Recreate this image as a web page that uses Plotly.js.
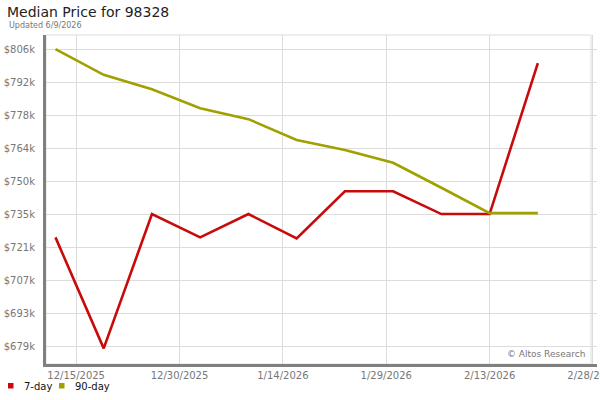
<!DOCTYPE html>
<html>
<head>
<meta charset="utf-8">
<script src="https://cdn.plot.ly/plotly-3.0.1.min.js"></script>
<style>
  html, body { margin: 0; padding: 0; background: #fff; }
  #chart { width: 600px; height: 400px; }
</style>
</head>
<body>
<div id="chart"></div>
<script>
// weekly sample dates
const dates = [
    "2025-12-12", "2025-12-19", "2025-12-26", "2026-01-02", "2026-01-09", "2026-01-16",
    "2026-01-23", "2026-01-30", "2026-02-06", "2026-02-13", "2026-02-20",
];

// median price, 7-day and 90-day rolling
const price7 = [725600, 678000, 735600, 725600, 735600, 725200, 745400, 745400, 735600, 735600, 800300];
const price90 = [806300, 795300, 789100, 781000, 776300, 767400, 763100, 757600, 746900, 736000, 736000];

const xTickVals = ["2025-12-15", "2025-12-30", "2026-01-14", "2026-01-29", "2026-02-13", "2026-02-28"];
const xTickText = ["12/15/2025", "12/30/2025", "1/14/2026", "1/29/2026", "2/13/2026", "2/28/2026"];

const yTickVals = [679000, 693111, 707222, 721333, 735444, 749556, 763667, 777778, 791889, 806000];
const yTickText = ["$679k", "$693k", "$707k", "$721k", "$735k", "$750k", "$764k", "$778k", "$792k", "$806k"];

const seriesNames = ["7-day", "90-day"];
const RED = "#c80a0a";
const OLIVE = "#a0a000";
const colors = [RED, OLIVE];

const traces = [price7, price90].map((ys, i) => ({
    x: dates, y: ys, type: "scatter", mode: "lines", name: seriesNames[i],
    line: { color: colors[i], width: 2.6 }, showlegend: false,
}));

// px -> paper helpers for the hand-drawn legend (plot area: x 46..597, y 35..364)
const px = (v) => (v - 46) / 551;
const py = (v) => (364 - v) / 329;

// legend swatches and labels, laid out like the original small legend
const legendX = [8, 59];
const legendShapes = seriesNames.map((n, i) => ({
    type: "rect", xref: "paper", yref: "paper",
    x0: px(legendX[i]), x1: px(legendX[i] + 5.5), y0: py(388.5), y1: py(383),
    line: { width: 0 }, fillcolor: colors[i],
}));
const legendLabels = seriesNames.map((n, i) => ({
    text: n, showarrow: false, xref: "paper", yref: "paper",
    x: px(legendX[i] + 13.5), y: py(386), xanchor: "left", yanchor: "middle",
    font: { size: 10, color: "#111" },
}));

const layout = {
    width: 600,
    height: 400,
    paper_bgcolor: "#fff",
    plot_bgcolor: "#fff",
    font: { family: "DejaVu Sans", size: 10, color: "#777" },
    margin: { l: 46, r: 3, t: 35, b: 36 },
    title: {
        text: "Median Price for 98328",
        font: { family: "DejaVu Sans", size: 14, color: "#222" },
        x: 7 / 600, xanchor: "left", xref: "container",
        y: 1 - 12 / 400, yanchor: "middle", yref: "container",
    },
    xaxis: {
        type: "date",
        range: ["2025-12-10 15:00", "2026-02-28 14:00"],
        tickvals: xTickVals,
        ticktext: xTickText,
        showgrid: true, gridcolor: "#dcdcdc", gridwidth: 1,
        showline: true, linecolor: "#808080", linewidth: 3,
        ticks: "", zeroline: false,
        ticklabeloverflow: "allow",
        tickfont: { size: 10, color: "#777" },
        fixedrange: true,
    },
    yaxis: {
        range: [671300, 812400],
        tickvals: yTickVals,
        ticktext: yTickText,
        showgrid: true, gridcolor: "#dcdcdc", gridwidth: 1,
        showline: true, linecolor: "#808080", linewidth: 3,
        ticks: "", zeroline: false,
        ticklabelstandoff: 6,
        tickfont: { size: 10, color: "#777" },
        fixedrange: true,
    },
    showlegend: false,
    shapes: [
        {
            type: "rect", xref: "paper", yref: "paper", x0: 0, x1: px(591), y0: 0, y1: 1,
            line: { color: "#dcdcdc", width: 1 }, layer: "below",
        },
        ...legendShapes,
    ],
    annotations: [
        {
            text: "Updated 6/9/2026", showarrow: false,
            xref: "paper", yref: "paper", x: px(7), y: py(26),
            xanchor: "left", yanchor: "middle",
            font: { size: 8, color: "#777" },
        },
        {
            text: "© Altos Research", showarrow: false,
            xref: "paper", yref: "paper", x: px(587), y: py(354),
            xanchor: "right", yanchor: "middle",
            font: { size: 9, color: "#777" },
        },
        ...legendLabels,
    ],
};

Plotly.newPlot("chart", traces, layout, { displayModeBar: false, staticPlot: true });
</script>
</body>
</html>
